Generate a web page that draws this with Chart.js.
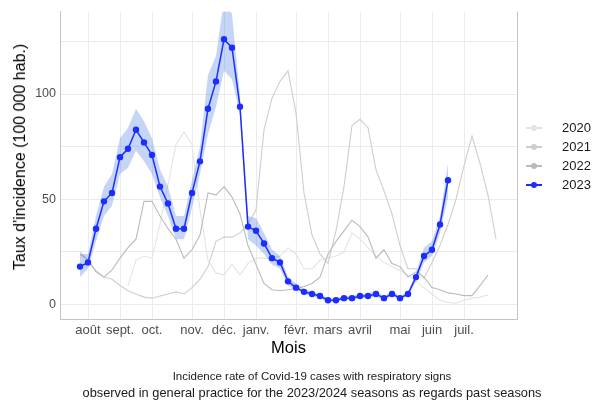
<!DOCTYPE html>
<html>
<head>
<meta charset="utf-8">
<script src="https://cdn.jsdelivr.net/npm/chart.js@4"></script>
<style>
  body { margin: 0; background: #fff; font-family: "Liberation Sans", Arial, sans-serif; }
  #wrap { position: relative; width: 593px; height: 402px; }
  #legend { position: absolute; left: 524px; top: 118px; font-size: 13px; color: #1a1a1a; }
  .item { position: relative; height: 19px; line-height: 19px; }
  .item .ln { position: absolute; left: 2px; top: 9px; width: 16px; height: 1.5px; }
  .item .dot { position: absolute; left: 7px; top: 6.5px; width: 6px; height: 6px; border-radius: 50%; }
  .item .lab { position: absolute; left: 38px; top: 0; }
  #ytitle { position: absolute; left: 20px; top: 157px; transform: translate(-50%, -50%) rotate(-90deg); white-space: nowrap; font-size: 16px; color: #000; }
  #caption { position: absolute; left: 0; width: 624px; top: 367px; text-align: center; line-height: 16px; color: #1a1a1a; }
  #caption .l1 { font-size: 11.5px; }
  #caption .l2 { font-size: 12.8px; }
</style>
</head>
<body>
<div id="wrap">
  <canvas id="chart"></canvas>
  <div id="ytitle">Taux d'incidence (100 000 hab.)</div>
  <div id="legend"></div>
  <div id="caption"><span class="l1">Incidence rate of Covid-19 cases with respiratory signs</span><br><span class="l2">observed in general practice for the 2023/2024 seasons as regards past seasons</span></div>
</div>
<script>
// weeks since the start of the season (week 0 = last week of July)
const monthPos = [1, 5, 9, 14, 18, 22, 27, 31, 35, 40, 44, 48];
const monthLabels = ['août', 'sept.', 'oct.', 'nov.', 'déc.', 'janv.', 'févr.', 'mars', 'avril', 'mai', 'juin', 'juil.'];

const seasons = ['2020', '2021', '2022', '2023'];

const s2020 = [null, null, null, null, null, null, 9, 21, 23, 22, 38, 57, 76, 82, 76, 45, 21, 15, 14, 19, 14, 19.5, 22, 22, 22, 23, 27, 24, 17, 17, 21, 22, 23, 25, 34, 31, 27, 23, 20, 18, 16, 14, 11, 8, 5, 2, 1, 0.6, 2, 3, 3.5, 4.5];
const s2021 = [25, 21, 16, 13, 12, 9, 6.5, 5, 3.5, 3, 4, 5, 6, 5, 8, 12, 18, 30, 32, 32, 34, 38, 45, 83, 98, 106, 111, 91, 53, 33, 24, 19.5, 35, 56, 85, 88, 84, 64, 54, 43, 28, 17, 17, 12.5, 20, 28, 38, 50, 66, 80, 67, 52, 31];
const s2022 = [24, 21, 15.5, 13, 16.4, 22, 27, 31, 49, 49, 42, 36, 31, 22, 26, 33, 53, 52, 56, 51, 43, 28, 19, 10, 7, 6.5, 7, 7.5, 8.5, 10, 13, 24, 30, 35, 40, 37, 32, 22, 26, 19.5, 18, 13, 15.5, 13, 8, 7, 5.5, 5, 4.2, 4.2, 9, 14];
const s2023 = [18, 20, 36, 49, 53, 70, 74, 83, 77, 71, 56, 48, 36, 36, 53, 68, 93, 106, 126, 122, 94, 37, 35, 29, 22, 20, 11, 8, 6, 5, 4, 2, 2, 3, 3, 4, 4, 5, 3, 5, 3, 5, 13, 23, 26, 38, 59];
const low2023 = [13, 17, 30, 42, 47, 62, 65, 73, 68, 62, 51, 42, 31, 31, 46, 62, 81, 94, 111, 107, 90, 31, 28, 24, 19, 17, 9, 7, 5, 4, 3, 1.2, 1.2, 2.2, 2.2, 3, 3, 3.8, 2.2, 4, 2.2, 4, 11, 20, 23, 34, 51];
const high2023 = [24, 24, 42, 56, 62, 79, 84, 93, 87, 79, 64, 56, 42, 42, 59, 75, 109, 118, 145, 138, 99, 42, 41, 34, 26, 23, 13, 10, 7.5, 6, 5, 3, 3, 4, 4, 5, 5.2, 6.5, 4, 6, 4, 6, 15, 27, 30, 42, 67];

const colors = { '2020': '#e4e4e4', '2021': '#cecece', '2022': '#bababa', '2023': '#1e2dff' };

const pts = arr => arr.map((v, i) => ({ x: i, y: v }));

const grey = (label, data, order) => ({
  label: label,
  data: pts(data),
  borderColor: colors[label],
  borderWidth: 1.1,
  pointRadius: 0,
  fill: false,
  order: order
});

const datasets = [
  {
    label: '2023',
    data: pts(s2023),
    borderColor: colors['2023'],
    backgroundColor: colors['2023'],
    borderWidth: 1.5,
    pointRadius: 3.2,
    pointBorderWidth: 0,
    fill: false,
    order: 0
  },
  { label: 'low', data: pts(low2023), borderWidth: 0, pointRadius: 0, fill: false, order: 1 },
  { label: 'high', data: pts(high2023), borderWidth: 0, pointRadius: 0, fill: '-1', backgroundColor: 'rgba(89,135,226,0.35)', order: 1 },
  grey('2022', s2022, 2),
  grey('2021', s2021, 3),
  grey('2020', s2020, 4)
];

const rightBorder = {
  id: 'rightBorder',
  beforeDatasetsDraw(chart) {
    const a = chart.chartArea, ctx = chart.ctx;
    ctx.save();
    ctx.strokeStyle = '#c4c4c4';
    ctx.lineWidth = 1;
    ctx.beginPath();
    ctx.moveTo(Math.round(a.right) + 0.5, a.top);
    ctx.lineTo(Math.round(a.right) + 0.5, a.bottom);
    ctx.stroke();
    ctx.restore();
  }
};

new Chart(document.getElementById('chart'), {
  type: 'line',
  data: { datasets: datasets },
  options: {
    responsive: true,
    maintainAspectRatio: false,
    animation: false,
    layout: { padding: { top: 10, right: 76, bottom: 0, left: 0 } },
    elements: { line: { tension: 0 } },
    plugins: { legend: { display: false }, tooltip: { enabled: false } },
    scales: {
      x: {
        type: 'linear',
        min: -2.5,
        max: 54.625,
        afterBuildTicks: scale => { scale.ticks = monthPos.map(v => ({ value: v })); },
        afterFit: scale => { scale.height = 83; },
        ticks: {
          autoSkip: false,
          maxRotation: 0,
          padding: 4,
          color: '#4d4d4d',
          font: { family: 'Liberation Sans', size: 13 },
          callback: (v, i) => monthLabels[i]
        },
        grid: { color: '#ebebeb', lineWidth: 1, drawTicks: false },
        border: { display: true, color: '#c4c4c4', width: 1 },
        title: {
          display: true,
          text: 'Mois',
          color: '#000',
          font: { family: 'Liberation Sans', size: 16.5 },
          padding: { top: 0, bottom: 44 }
        }
      },
      y: {
        min: -6.9,
        max: 139.2,
        afterBuildTicks: scale => { scale.ticks = [0, 25, 50, 75, 100, 125].map(v => ({ value: v })); },
        afterFit: scale => { scale.width = 60; },
        ticks: {
          padding: 4,
          color: '#4d4d4d',
          font: { family: 'Liberation Sans', size: 12.5 },
          callback: v => (v % 50 === 0 ? String(v) : '')
        },
        grid: { color: '#ebebeb', lineWidth: 1, drawTicks: false },
        border: { display: true, color: '#c4c4c4', width: 1 }
      }
    }
  },
  plugins: [rightBorder]
});

const legend = document.getElementById('legend');
seasons.forEach(s => {
  const it = document.createElement('div');
  it.className = 'item';
  it.innerHTML = '<span class="ln" style="background:' + colors[s] + '"></span>' +
    '<span class="dot" style="background:' + colors[s] + '"></span>' +
    '<span class="lab">' + s + '</span>';
  legend.appendChild(it);
});
</script>
</body>
</html>
